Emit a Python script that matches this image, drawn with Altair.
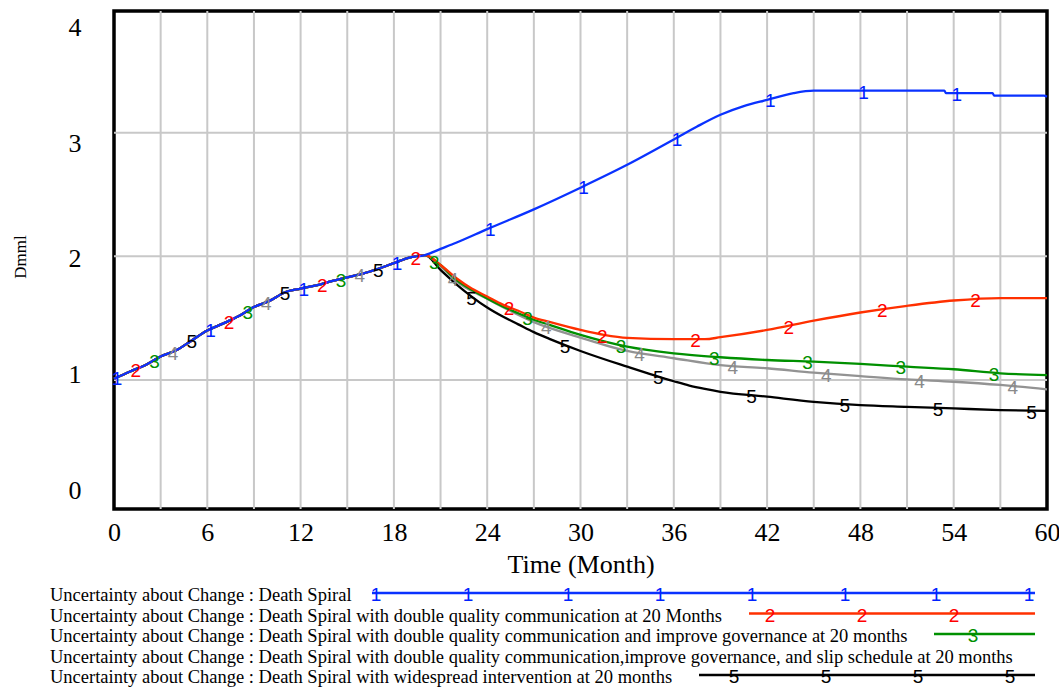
import altair as alt
import numpy as np
import pandas as pd

# ---------------- data ----------------
# all five runs are identical up to month 20
common_months = list(range(0, 21))
common_values = [1.01, 1.067, 1.12, 1.19, 1.24, 1.32, 1.40, 1.456, 1.515, 1.59,
                 1.64, 1.71, 1.74, 1.765, 1.80, 1.83, 1.86, 1.90, 1.945, 1.99, 2.01]

s1_months = [21, 22, 24, 27, 30, 33, 36, 37.5, 39, 40.5, 42, 43.7, 45, 48, 53.4, 53.5,
             56.5, 56.6, 59.8, 60]
s1_values = [2.06, 2.11, 2.22, 2.38, 2.555, 2.74, 2.945, 3.05, 3.145, 3.215, 3.265, 3.32,
             3.34, 3.34, 3.34, 3.32, 3.32, 3.30, 3.30, 3.29]

s2_months = [21, 22, 23, 24, 25, 26, 27, 28, 30, 31.5, 33, 36, 38, 39, 42, 45, 48, 51, 54, 57, 60]
s2_values = [1.93, 1.825, 1.74, 1.675, 1.61, 1.56, 1.505, 1.47, 1.405, 1.365, 1.34, 1.33,
             1.33, 1.346, 1.405, 1.48, 1.546, 1.60, 1.643, 1.663, 1.663]

s3_months = [21, 22, 23, 24, 25, 26, 27, 28, 30, 33, 36, 39, 42, 45, 48, 51, 54, 57, 60]
s3_values = [1.93, 1.81, 1.73, 1.66, 1.595, 1.54, 1.487, 1.446, 1.365, 1.27, 1.216, 1.184,
             1.162, 1.148, 1.13, 1.108, 1.087, 1.054, 1.04]

s4_months = [21, 22, 24, 27, 30, 33, 36, 39, 42, 45, 48, 51, 54, 57, 60]
s4_values = [1.92, 1.80, 1.657, 1.468, 1.343, 1.235, 1.176, 1.12, 1.095, 1.06, 1.032,
             1.005, 0.986, 0.96, 0.925]

s5_months = [21, 22, 23, 24, 25, 26, 27, 28, 30, 33, 36, 37, 38, 39, 42, 45, 48, 51, 54, 57, 60]
s5_values = [1.89, 1.776, 1.675, 1.586, 1.513, 1.45, 1.387, 1.333, 1.235, 1.108, 0.99,
             0.955, 0.928, 0.905, 0.865, 0.824, 0.797, 0.783, 0.77, 0.757, 0.75]

series_marks = ["1", "2", "3", "4", "5"]
legend_labels = [
    "Uncertainty about Change : Death Spiral",
    "Uncertainty about Change : Death Spiral with double quality communication at 20 Months",
    "Uncertainty about Change : Death Spiral with double quality communication and improve governance at 20 months",
    "Uncertainty about Change : Death Spiral with double quality communication,improve governance, and slip schedule at 20 months",
    "Uncertainty about Change : Death Spiral with widespread intervention at 20 months",
]
x_tick_values = list(range(0, 61, 6))
x_grid_values = list(range(3, 58, 3))
y_grid_values = [1, 2, 3]
y_label_values = [0, 1, 2, 3, 4]

# ---------------- styles / layout ----------------
line_colors = ["#0a32ff", "#ff3000", "#009000", "#939393", "#000000"]
mark_colors = ["#0022ff", "#ff0000", "#009000", "#8a8a8a", "#000000"]
marker_offsets = [0.2, 1.4, 2.6, 3.8, 5.0]   # first numbered marker of each run (months)
marker_step = 6

PLOT_W, PLOT_H = 933, 498
PAD_L, PAD_T = 114, 11
SERIF = "Liberation Serif"
SANS = "Liberation Sans"
MARK_SIZE = 19

tails = [(s1_months, s1_values), (s2_months, s2_values), (s3_months, s3_values),
         (s4_months, s4_values), (s5_months, s5_values)]

xscale = alt.Scale(domain=[0, 60], nice=False, zero=False)
yscale = alt.Scale(domain=[-0.043, 3.984], nice=False, zero=False)
xaxis = alt.Axis(values=x_tick_values, grid=False, ticks=False, domain=False,
                 labelFont=SERIF, labelFontSize=26, labelColor="black", labelPadding=10,
                 labelFlush=False, title="Time (Month)", titleFont=SERIF, titleFontSize=26,
                 titleFontWeight="normal", titleColor="black", titlePadding=6)

inner_layers = []
# grid
inner_layers.append(
    alt.Chart(pd.DataFrame({"g": x_grid_values})).mark_rule(color="#c8c8c8", strokeWidth=2)
    .encode(x=alt.X("g:Q", scale=xscale, axis=xaxis))
)
inner_layers.append(
    alt.Chart(pd.DataFrame({"g": y_grid_values})).mark_rule(color="#c8c8c8", strokeWidth=2)
    .encode(y=alt.Y("g:Q", scale=yscale, axis=None))
)

series_frames = []
for i, (tm, tv) in enumerate(tails):
    months = common_months + tm
    values = common_values + tv
    series_frames.append(pd.DataFrame({"month": months, "value": values}))

# lines, series 5 drawn first, series 1 on top
for i in reversed(range(5)):
    inner_layers.append(
        alt.Chart(series_frames[i]).mark_line(color=line_colors[i], strokeWidth=2.3,
                                              interpolate="monotone")
        .encode(x=alt.X("month:Q", scale=xscale, axis=xaxis),
                y=alt.Y("value:Q", scale=yscale, axis=None),
                order="month:Q")
    )

# numbered markers along each run
for i in reversed(range(5)):
    df = series_frames[i]
    mm = np.arange(marker_offsets[i], 60.0001, marker_step)
    mv = np.interp(mm, df["month"].to_numpy(), df["value"].to_numpy())
    mdf = pd.DataFrame({"month": mm, "value": mv, "t": series_marks[i]})
    inner_layers.append(
        alt.Chart(mdf).mark_text(font=SANS, fontSize=MARK_SIZE, color=mark_colors[i],
                                 baseline="middle", align="center", dy=2)
        .encode(x=alt.X("month:Q", scale=xscale, axis=xaxis),
                y=alt.Y("value:Q", scale=yscale, axis=None),
                text="t:N")
    )

inner = alt.layer(*inner_layers)

# y labels (Vensim places them on a slightly different spacing than the grid)
label_layer = alt.Chart(pd.DataFrame({"v": y_label_values})).mark_point(opacity=0).encode(
    x=alt.value(0),
    y=alt.Y("v:Q", scale=alt.Scale(domain=[-0.158, 4.14], nice=False, zero=False),
            axis=alt.Axis(values=y_label_values, orient="left", grid=False, ticks=False,
                          domain=False, labelFont=SERIF, labelFontSize=26, labelColor="black",
                          labelPadding=33, title="Dmml", titleFont=SERIF, titleFontSize=17,
                          titleFontWeight="normal", titleColor="black",
                          titleX=-94, titleY=245.5, titleAngle=270, titleBaseline="middle",
                          titleAlign="center")),
)

# ---------------- custom Vensim-style legend ----------------
legend_baselines = [601, 621.5, 642, 662.5, 683]
legend_line_start = [372, 749, 934, None, 699]
legend_line_end = 1035
legend_marker_px = [
    [376, 468, 568, 660, 752, 845, 936, 1029],
    [770, 862, 954],
    [973],
    [],
    [734, 826, 918, 1010],
]
legend_layers = []
for i in range(5):
    base = legend_baselines[i] - PAD_T
    legend_layers.append(
        alt.Chart(pd.DataFrame({"t": [legend_labels[i]]})).mark_text(
            font=SERIF, fontSize=18.5, color="black", align="left", baseline="alphabetic")
        .encode(x=alt.value(50 - PAD_L), y=alt.value(base), text="t:N")
    )
    ly = base - 8
    if legend_line_start[i] is not None:
        legend_layers.append(
            alt.Chart(pd.DataFrame({"t": [series_marks[i]]})).mark_rule(
                color=line_colors[i], strokeWidth=2.3)
            .encode(x=alt.value(legend_line_start[i] - PAD_L),
                    x2=alt.value(legend_line_end - PAD_L), y=alt.value(ly))
        )
    for px in legend_marker_px[i]:
        legend_layers.append(
            alt.Chart(pd.DataFrame({"t": [series_marks[i]]})).mark_text(
                font=SANS, fontSize=MARK_SIZE, color=mark_colors[i], baseline="middle",
                align="center", dy=2)
            .encode(x=alt.value(px - PAD_L), y=alt.value(ly), text="t:N")
        )

chart = (
    alt.layer(label_layer, inner, *legend_layers)
    .resolve_scale(y="independent")
    .properties(width=PLOT_W, height=PLOT_H,
                autosize=alt.AutoSizeParams(type="none"),
                padding={"left": PAD_L, "top": PAD_T, "right": 1059 - PAD_L - PLOT_W,
                         "bottom": 689 - PAD_T - PLOT_H},
                background="white")
    .configure_view(stroke="black", strokeWidth=3.5)
)

chart.save("out.html", embed_options={"renderer": "svg", "actions": False})
